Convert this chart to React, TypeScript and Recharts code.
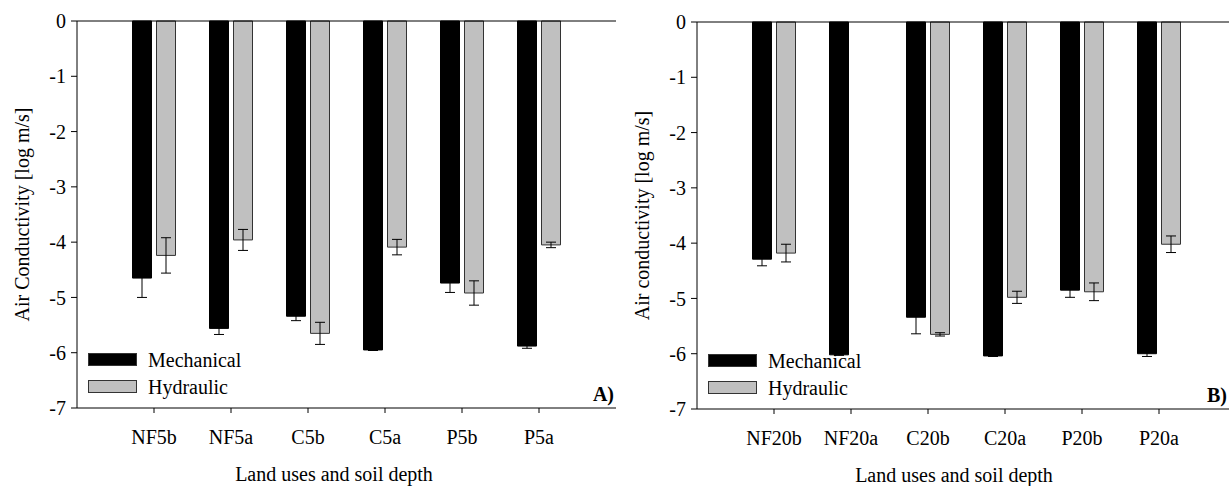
import React from 'react';
import {
  BarChart, Bar, XAxis, YAxis, ErrorBar, ReferenceLine, Legend, Label,
} from 'recharts';

// Panel A: 5 cm depth
const categoriesA = ['NF5b', 'NF5a', 'C5b', 'C5a', 'P5b', 'P5a'];
const mechanicalA = [-4.65, -5.56, -5.34, -5.95, -4.74, -5.88];
const mechanicalErrA = [0.35, 0.11, 0.08, 0.01, 0.17, 0.04];
const hydraulicA = [-4.24, -3.96, -5.65, -4.09, -4.92, -4.05];
const hydraulicErrA = [0.32, 0.19, 0.2, 0.14, 0.22, 0.05];

// Panel B: 20 cm depth (no hydraulic value for NF20a)
const categoriesB = ['NF20b', 'NF20a', 'C20b', 'C20a', 'P20b', 'P20a'];
const mechanicalB = [-4.29, -6.02, -5.34, -6.04, -4.85, -6.0];
const mechanicalErrB = [0.12, 0.01, 0.3, 0.01, 0.13, 0.05];
const hydraulicB = [-4.18, null, -5.65, -4.98, -4.88, -4.02];
const hydraulicErrB = [0.16, null, 0.03, 0.11, 0.16, 0.15];

const yTicks = [0, -1, -2, -3, -4, -5, -6, -7];

const FONT = '"Liberation Serif", "Times New Roman", serif';
const GREY = '#c0c0c0';
const tickStyle = { fill: '#000', fontSize: 20, fontFamily: FONT };

const LegendBox = () => (
  <div style={{ fontFamily: FONT, fontSize: 20, color: '#000' }}>
    {[
      { name: 'Mechanical', fill: '#000' },
      { name: 'Hydraulic', fill: GREY },
    ].map((s) => (
      <div key={s.name} style={{ display: 'flex', alignItems: 'center', height: 27 }}>
        <div style={{ width: 47, height: 11, background: s.fill, border: '1px solid #333', marginRight: 11 }} />
        <span style={{ lineHeight: '20px' }}>{s.name}</span>
      </div>
    ))}
  </div>
);

interface PanelProps {
  categories: string[];
  mech: number[];
  mechErr: number[];
  hyd: (number | null)[];
  hydErr: (number | null)[];
  yLabel: string;
  tag: string;
  visibleWidth?: number; // part of the chart that is on the page
}

function Panel({ categories, mech, mechErr, hyd, hydErr, yLabel, tag, visibleWidth = 620 }: PanelProps) {
  const data = categories.map((name, i) => ({
    name,
    mechanical: mech[i],
    mechanicalErr: mechErr[i],
    hydraulic: hyd[i],
    hydraulicErr: hydErr[i],
  }));

  return (
    <BarChart
      width={620}
      height={486}
      data={data}
      margin={{ top: 21, right: 4, left: 27, bottom: 0 }}
      barSize={19}
      barGap={5}
    >
      <XAxis
        dataKey="name"
        interval={0}
        padding={{ left: 38.5, right: 38.5 }}
        height={78}
        tick={tickStyle}
        tickSize={5}
        tickMargin={17}
        axisLine={{ stroke: '#000' }}
        tickLine={{ stroke: '#000' }}
      >
        <Label
          content={({ viewBox }: any) => (
            <g fontFamily={FONT} fill="#000" fontSize={20}>
              <text x={viewBox.x + 257} y={viewBox.y + 73} textAnchor="middle">
                Land uses and soil depth
              </text>
              {/* panel tag, bottom right corner of the frame */}
              <text
                x={Math.min(viewBox.x + viewBox.width - 2, visibleWidth - 2)}
                y={viewBox.y - 7}
                textAnchor="end"
                fontWeight="bold"
              >
                {tag}
              </text>
            </g>
          )}
        />
      </XAxis>
      <YAxis
        domain={[-7, 0]}
        ticks={yTicks}
        interval={0}
        width={50}
        tick={tickStyle}
        tickSize={6}
        tickMargin={5}
        axisLine={{ stroke: '#000' }}
        tickLine={{ stroke: '#000' }}
      >
        <Label
          content={({ viewBox }: any) => {
            const x = viewBox.x + viewBox.width - 55;
            const y = viewBox.y + viewBox.height / 2;
            return (
              <text
                x={x}
                y={y}
                transform={`rotate(-90 ${x} ${y})`}
                textAnchor="middle"
                dominantBaseline="central"
                fontSize={20}
                fontFamily={FONT}
                fill="#000"
              >
                {yLabel}
              </text>
            );
          }}
        />
      </YAxis>
      <YAxis
        yAxisId="frame"
        orientation="right"
        domain={[-7, 0]}
        width={0}
        tick={false}
        tickLine={false}
        axisLine={{ stroke: '#000' }}
      />
      <ReferenceLine y={0} stroke="#000" />
      <Legend
        layout="horizontal"
        verticalAlign="middle"
        align="center"
        content={() => <LegendBox />}
        wrapperStyle={{ left: 88, top: 346, width: 'auto', height: 'auto' }}
      />
      <Bar dataKey="mechanical" name="Mechanical" fill="#000" stroke="#000" isAnimationActive={false}>
        <ErrorBar dataKey="mechanicalErr" width={5} stroke="#000" strokeWidth={1} direction="y" isAnimationActive={false} />
      </Bar>
      <Bar dataKey="hydraulic" name="Hydraulic" fill={GREY} stroke="#333" isAnimationActive={false}>
        <ErrorBar dataKey="hydraulicErr" width={5} stroke="#000" strokeWidth={1} direction="y" isAnimationActive={false} />
      </Bar>
    </BarChart>
  );
}

export default function App() {
  return (
    <div
      style={{
        position: 'absolute',
        left: 0,
        top: 0,
        width: 1229,
        height: 486,
        overflow: 'hidden',
        background: '#fff',
        fontFamily: FONT,
      }}
    >
      <div style={{ position: 'absolute', left: 0, top: 0 }}>
        <Panel
          categories={categoriesA}
          mech={mechanicalA}
          mechErr={mechanicalErrA}
          hyd={hydraulicA}
          hydErr={hydraulicErrA}
          yLabel="Air Conductivity [log m/s]"
          tag="A)"
        />
      </div>
      <div style={{ position: 'absolute', left: 620, top: 1 }}>
        <Panel
          categories={categoriesB}
          mech={mechanicalB}
          mechErr={mechanicalErrB}
          hyd={hydraulicB}
          hydErr={hydraulicErrB}
          yLabel="Air conductivity [log m/s]"
          tag="B)"
          visibleWidth={609}
        />
      </div>
    </div>
  );
}
